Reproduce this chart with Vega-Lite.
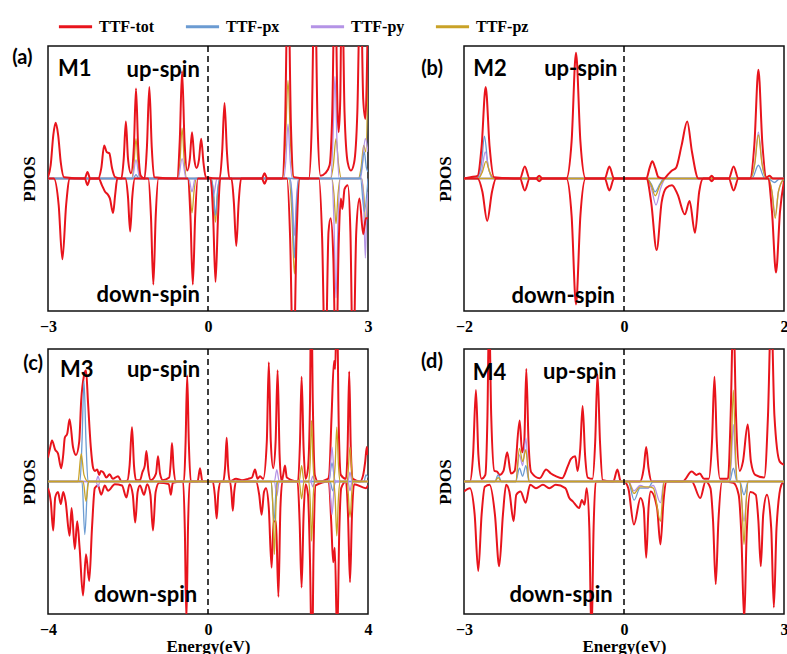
{
"$schema":"https://vega.github.io/schema/vega-lite/v6.json",
"padding":{"left":11,"top":8,"right":0,"bottom":0},
"bounds":"flush",
"columns":2,
"spacing":{"row":38,"column":96},
"resolve":{"scale":{"color":"shared"},"legend":{"color":"shared"}},
"config":{
 "view":{"stroke":"#111","strokeWidth":1.5},
 "font":"Liberation Serif",
 "axis":{"labelFont":"Liberation Serif","labelFontWeight":"bold","labelFontSize":16,"labelColor":"black","titleFont":"Liberation Serif","titleFontWeight":"bold","titleFontSize":17,"titleColor":"black","grid":false,"ticks":false,"domain":false,"format":"d"},
 "axisX":{"labelFlush":false,"labelPadding":7,"titlePadding":1},
 "axisY":{"labels":false,"titlePadding":10,"titleFontSize":17}
},
"datasets":{
"a":[
{"s":"tot","d":"u","x":-3.0,"y":0.01},{"s":"tot","d":"u","x":-2.95,"y":0.1},{"s":"tot","d":"u","x":-2.9,"y":0.33},{"s":"tot","d":"u","x":-2.856,"y":0.42},{"s":"tot","d":"u","x":-2.81,"y":0.33},{"s":"tot","d":"u","x":-2.76,"y":0.12},{"s":"tot","d":"u","x":-2.7,"y":0.01},{"s":"tot","d":"u","x":-2.31,"y":0},{"s":"tot","d":"u","x":-2.26,"y":0.05},{"s":"tot","d":"u","x":-2.21,"y":0},{"s":"tot","d":"u","x":-2.06,"y":0},{"s":"tot","d":"u","x":-2.0,"y":0.08},{"s":"tot","d":"u","x":-1.947,"y":0.25},{"s":"tot","d":"u","x":-1.9,"y":0.2},{"s":"tot","d":"u","x":-1.85,"y":0.19},{"s":"tot","d":"u","x":-1.8,"y":0.08},{"s":"tot","d":"u","x":-1.74,"y":0.01},{"s":"tot","d":"u","x":-1.625,"y":0},{"s":"tot","d":"u","x":-1.58,"y":0.15},{"s":"tot","d":"u","x":-1.54,"y":0.43},{"s":"tot","d":"u","x":-1.5,"y":0.15},{"s":"tot","d":"u","x":-1.445,"y":0.04},{"s":"tot","d":"u","x":-1.39,"y":0.24},{"s":"tot","d":"u","x":-1.35,"y":0.68},{"s":"tot","d":"u","x":-1.31,"y":0.24},{"s":"tot","d":"u","x":-1.26,"y":0.02},{"s":"tot","d":"u","x":-1.19,"y":0},{"s":"tot","d":"u","x":-1.145,"y":0.24},{"s":"tot","d":"u","x":-1.1,"y":0.69},{"s":"tot","d":"u","x":-1.055,"y":0.24},{"s":"tot","d":"u","x":-1.01,"y":0.01},{"s":"tot","d":"u","x":-0.58,"y":0},{"s":"tot","d":"u","x":-0.53,"y":0.28},{"s":"tot","d":"u","x":-0.486,"y":0.81},{"s":"tot","d":"u","x":-0.44,"y":0.28},{"s":"tot","d":"u","x":-0.39,"y":0.06},{"s":"tot","d":"u","x":-0.34,"y":0.15},{"s":"tot","d":"u","x":-0.3,"y":0.35},{"s":"tot","d":"u","x":-0.255,"y":0.14},{"s":"tot","d":"u","x":-0.215,"y":0.08},{"s":"tot","d":"u","x":-0.17,"y":0.14},{"s":"tot","d":"u","x":-0.128,"y":0.3},{"s":"tot","d":"u","x":-0.085,"y":0.12},{"s":"tot","d":"u","x":-0.04,"y":0.01},{"s":"tot","d":"u","x":0.22,"y":0},{"s":"tot","d":"u","x":0.265,"y":0.2},{"s":"tot","d":"u","x":0.31,"y":0.57},{"s":"tot","d":"u","x":0.355,"y":0.2},{"s":"tot","d":"u","x":0.4,"y":0},{"s":"tot","d":"u","x":1.01,"y":0},{"s":"tot","d":"u","x":1.06,"y":0.04},{"s":"tot","d":"u","x":1.11,"y":0},{"s":"tot","d":"u","x":1.39,"y":0},{"s":"tot","d":"u","x":1.445,"y":0.4},{"s":"tot","d":"u","x":1.5,"y":1.6},{"s":"tot","d":"u","x":1.555,"y":0.4},{"s":"tot","d":"u","x":1.61,"y":0.01},{"s":"tot","d":"u","x":1.89,"y":0},{"s":"tot","d":"u","x":1.945,"y":0.4},{"s":"tot","d":"u","x":2.0,"y":1.6},{"s":"tot","d":"u","x":2.055,"y":0.4},{"s":"tot","d":"u","x":2.11,"y":0.02},{"s":"tot","d":"u","x":2.2,"y":0.04},{"s":"tot","d":"u","x":2.28,"y":0.1},{"s":"tot","d":"u","x":2.33,"y":0.5},{"s":"tot","d":"u","x":2.38,"y":1.6},{"s":"tot","d":"u","x":2.43,"y":0.5},{"s":"tot","d":"u","x":2.45,"y":0.35},{"s":"tot","d":"u","x":2.48,"y":0.6},{"s":"tot","d":"u","x":2.51,"y":1.6},{"s":"tot","d":"u","x":2.56,"y":0.5},{"s":"tot","d":"u","x":2.62,"y":0.12},{"s":"tot","d":"u","x":2.68,"y":0.06},{"s":"tot","d":"u","x":2.74,"y":0.12},{"s":"tot","d":"u","x":2.8,"y":0.5},{"s":"tot","d":"u","x":2.86,"y":1.6},{"s":"tot","d":"u","x":2.91,"y":0.6},{"s":"tot","d":"u","x":2.95,"y":0.45},{"s":"tot","d":"u","x":3.0,"y":1.3},
{"s":"tot","d":"d","x":-3.0,"y":0},{"s":"tot","d":"d","x":-2.89,"y":0},{"s":"tot","d":"d","x":-2.8,"y":-0.2},{"s":"tot","d":"d","x":-2.73,"y":-0.61},{"s":"tot","d":"d","x":-2.66,"y":-0.2},{"s":"tot","d":"d","x":-2.59,"y":0},{"s":"tot","d":"d","x":-2.31,"y":0},{"s":"tot","d":"d","x":-2.26,"y":-0.05},{"s":"tot","d":"d","x":-2.21,"y":0},{"s":"tot","d":"d","x":-2.05,"y":0},{"s":"tot","d":"d","x":-1.99,"y":-0.05},{"s":"tot","d":"d","x":-1.93,"y":-0.1},{"s":"tot","d":"d","x":-1.88,"y":-0.12},{"s":"tot","d":"d","x":-1.84,"y":-0.15},{"s":"tot","d":"d","x":-1.78,"y":-0.26},{"s":"tot","d":"d","x":-1.74,"y":-0.12},{"s":"tot","d":"d","x":-1.7,"y":0},{"s":"tot","d":"d","x":-1.55,"y":0},{"s":"tot","d":"d","x":-1.5,"y":-0.14},{"s":"tot","d":"d","x":-1.46,"y":-0.4},{"s":"tot","d":"d","x":-1.42,"y":-0.14},{"s":"tot","d":"d","x":-1.37,"y":0},{"s":"tot","d":"d","x":-1.12,"y":0},{"s":"tot","d":"d","x":-1.07,"y":-0.28},{"s":"tot","d":"d","x":-1.025,"y":-0.8},{"s":"tot","d":"d","x":-0.98,"y":-0.28},{"s":"tot","d":"d","x":-0.93,"y":0},{"s":"tot","d":"d","x":-0.38,"y":0},{"s":"tot","d":"d","x":-0.33,"y":-0.28},{"s":"tot","d":"d","x":-0.285,"y":-0.8},{"s":"tot","d":"d","x":-0.24,"y":-0.28},{"s":"tot","d":"d","x":-0.19,"y":0},{"s":"tot","d":"d","x":0.05,"y":0},{"s":"tot","d":"d","x":0.095,"y":-0.27},{"s":"tot","d":"d","x":0.141,"y":-0.78},{"s":"tot","d":"d","x":0.19,"y":-0.27},{"s":"tot","d":"d","x":0.23,"y":0},{"s":"tot","d":"d","x":0.44,"y":0},{"s":"tot","d":"d","x":0.485,"y":-0.18},{"s":"tot","d":"d","x":0.53,"y":-0.51},{"s":"tot","d":"d","x":0.575,"y":-0.18},{"s":"tot","d":"d","x":0.62,"y":0},{"s":"tot","d":"d","x":1.01,"y":0},{"s":"tot","d":"d","x":1.06,"y":-0.04},{"s":"tot","d":"d","x":1.11,"y":0},{"s":"tot","d":"d","x":1.48,"y":0},{"s":"tot","d":"d","x":1.54,"y":-0.45},{"s":"tot","d":"d","x":1.6,"y":-1.5},{"s":"tot","d":"d","x":1.66,"y":-0.45},{"s":"tot","d":"d","x":1.72,"y":0},{"s":"tot","d":"d","x":2.08,"y":0},{"s":"tot","d":"d","x":2.14,"y":-0.45},{"s":"tot","d":"d","x":2.2,"y":-1.5},{"s":"tot","d":"d","x":2.26,"y":-0.4},{"s":"tot","d":"d","x":2.3,"y":-0.3},{"s":"tot","d":"d","x":2.35,"y":-0.6},{"s":"tot","d":"d","x":2.4,"y":-1.5},{"s":"tot","d":"d","x":2.45,"y":-0.5},{"s":"tot","d":"d","x":2.49,"y":-0.15},{"s":"tot","d":"d","x":2.52,"y":-0.23},{"s":"tot","d":"d","x":2.56,"y":-0.08},{"s":"tot","d":"d","x":2.62,"y":-0.05},{"s":"tot","d":"d","x":2.67,"y":-0.4},{"s":"tot","d":"d","x":2.72,"y":-1.5},{"s":"tot","d":"d","x":2.78,"y":-0.4},{"s":"tot","d":"d","x":2.84,"y":-0.15},{"s":"tot","d":"d","x":2.91,"y":-0.42},{"s":"tot","d":"d","x":2.96,"y":-0.3},{"s":"tot","d":"d","x":3.0,"y":-0.3},
{"s":"pz","d":"u","x":-3,"y":0},{"s":"pz","d":"u","x":-1.43,"y":0},{"s":"pz","d":"u","x":-1.39,"y":0.1},{"s":"pz","d":"u","x":-1.35,"y":0.3},{"s":"pz","d":"u","x":-1.31,"y":0.1},{"s":"pz","d":"u","x":-1.27,"y":0},{"s":"pz","d":"u","x":-0.57,"y":0},{"s":"pz","d":"u","x":-0.525,"y":0.13},{"s":"pz","d":"u","x":-0.486,"y":0.38},{"s":"pz","d":"u","x":-0.445,"y":0.13},{"s":"pz","d":"u","x":-0.4,"y":0},{"s":"pz","d":"u","x":1.4,"y":0},{"s":"pz","d":"u","x":1.45,"y":0.25},{"s":"pz","d":"u","x":1.5,"y":0.74},{"s":"pz","d":"u","x":1.55,"y":0.25},{"s":"pz","d":"u","x":1.6,"y":0},{"s":"pz","d":"u","x":2.3,"y":0},{"s":"pz","d":"u","x":2.35,"y":0.1},{"s":"pz","d":"u","x":2.4,"y":0.3},{"s":"pz","d":"u","x":2.45,"y":0.1},{"s":"pz","d":"u","x":2.5,"y":0},{"s":"pz","d":"u","x":2.82,"y":0},{"s":"pz","d":"u","x":2.87,"y":0.08},{"s":"pz","d":"u","x":2.92,"y":0.25},{"s":"pz","d":"u","x":2.96,"y":0.2},{"s":"pz","d":"u","x":3.0,"y":0.83},
{"s":"pz","d":"d","x":-3,"y":0},{"s":"pz","d":"d","x":-0.38,"y":0},{"s":"pz","d":"d","x":-0.34,"y":-0.09},{"s":"pz","d":"d","x":-0.3,"y":-0.26},{"s":"pz","d":"d","x":-0.26,"y":-0.09},{"s":"pz","d":"d","x":-0.22,"y":0},{"s":"pz","d":"d","x":0.06,"y":0},{"s":"pz","d":"d","x":0.1,"y":-0.11},{"s":"pz","d":"d","x":0.14,"y":-0.33},{"s":"pz","d":"d","x":0.18,"y":-0.11},{"s":"pz","d":"d","x":0.22,"y":0},{"s":"pz","d":"d","x":1.52,"y":0},{"s":"pz","d":"d","x":1.57,"y":-0.24},{"s":"pz","d":"d","x":1.62,"y":-0.72},{"s":"pz","d":"d","x":1.67,"y":-0.24},{"s":"pz","d":"d","x":1.72,"y":0},{"s":"pz","d":"d","x":2.32,"y":0},{"s":"pz","d":"d","x":2.36,"y":-0.11},{"s":"pz","d":"d","x":2.4,"y":-0.34},{"s":"pz","d":"d","x":2.44,"y":-0.11},{"s":"pz","d":"d","x":2.48,"y":0},{"s":"pz","d":"d","x":2.88,"y":0},{"s":"pz","d":"d","x":2.92,"y":-0.12},{"s":"pz","d":"d","x":2.96,"y":-0.35},{"s":"pz","d":"d","x":3.0,"y":-0.1},
{"s":"py","d":"u","x":-3,"y":0},{"s":"py","d":"u","x":-1.42,"y":0},{"s":"py","d":"u","x":-1.35,"y":0.14},{"s":"py","d":"u","x":-1.28,"y":0},{"s":"py","d":"u","x":-0.56,"y":0},{"s":"py","d":"u","x":-0.486,"y":0.15},{"s":"py","d":"u","x":-0.41,"y":0},{"s":"py","d":"u","x":1.42,"y":0},{"s":"py","d":"u","x":1.46,"y":0.14},{"s":"py","d":"u","x":1.5,"y":0.41},{"s":"py","d":"u","x":1.54,"y":0.14},{"s":"py","d":"u","x":1.58,"y":0},{"s":"py","d":"u","x":2.3,"y":0},{"s":"py","d":"u","x":2.34,"y":0.26},{"s":"py","d":"u","x":2.38,"y":0.77},{"s":"py","d":"u","x":2.42,"y":0.26},{"s":"py","d":"u","x":2.46,"y":0},{"s":"py","d":"u","x":2.86,"y":0},{"s":"py","d":"u","x":2.95,"y":0.3},{"s":"py","d":"u","x":3.0,"y":0.2},
{"s":"py","d":"d","x":-3,"y":0},{"s":"py","d":"d","x":-0.36,"y":0},{"s":"py","d":"d","x":-0.3,"y":-0.1},{"s":"py","d":"d","x":-0.24,"y":0},{"s":"py","d":"d","x":0.03,"y":0},{"s":"py","d":"d","x":0.1,"y":-0.13},{"s":"py","d":"d","x":0.17,"y":0},{"s":"py","d":"d","x":1.54,"y":0},{"s":"py","d":"d","x":1.58,"y":-0.14},{"s":"py","d":"d","x":1.62,"y":-0.43},{"s":"py","d":"d","x":1.66,"y":-0.14},{"s":"py","d":"d","x":1.7,"y":0},{"s":"py","d":"d","x":2.32,"y":0},{"s":"py","d":"d","x":2.36,"y":-0.3},{"s":"py","d":"d","x":2.4,"y":-0.9},{"s":"py","d":"d","x":2.44,"y":-0.3},{"s":"py","d":"d","x":2.48,"y":0},{"s":"py","d":"d","x":2.88,"y":0},{"s":"py","d":"d","x":2.92,"y":-0.2},{"s":"py","d":"d","x":2.95,"y":-0.6},{"s":"py","d":"d","x":2.98,"y":-0.2},{"s":"py","d":"d","x":3.0,"y":-0.1},
{"s":"px","d":"u","x":-3,"y":0},{"s":"px","d":"u","x":-1.4,"y":0},{"s":"px","d":"u","x":-1.35,"y":0.03},{"s":"px","d":"u","x":-1.3,"y":0},{"s":"px","d":"u","x":2.84,"y":0},{"s":"px","d":"u","x":2.88,"y":0.07},{"s":"px","d":"u","x":2.93,"y":0.2},{"s":"px","d":"u","x":2.97,"y":0.08},{"s":"px","d":"u","x":3.0,"y":0.05},
{"s":"px","d":"d","x":-3,"y":0},{"s":"px","d":"d","x":0.06,"y":0},{"s":"px","d":"d","x":0.1,"y":-0.09},{"s":"px","d":"d","x":0.14,"y":-0.28},{"s":"px","d":"d","x":0.18,"y":-0.09},{"s":"px","d":"d","x":0.22,"y":0},{"s":"px","d":"d","x":1.54,"y":0},{"s":"px","d":"d","x":1.58,"y":-0.2},{"s":"px","d":"d","x":1.62,"y":-0.6},{"s":"px","d":"d","x":1.66,"y":-0.2},{"s":"px","d":"d","x":1.7,"y":0},{"s":"px","d":"d","x":2.86,"y":0},{"s":"px","d":"d","x":2.93,"y":-0.25},{"s":"px","d":"d","x":3.0,"y":0}
],
"b":[
{"s":"tot","d":"u","x":-2,"y":0},{"s":"tot","d":"u","x":-1.92,"y":0.01},{"s":"tot","d":"u","x":-1.83,"y":0.02},{"s":"tot","d":"u","x":-1.78,"y":0.24},{"s":"tot","d":"u","x":-1.729,"y":0.69},{"s":"tot","d":"u","x":-1.68,"y":0.24},{"s":"tot","d":"u","x":-1.625,"y":0.01},{"s":"tot","d":"u","x":-1.3,"y":0},{"s":"tot","d":"u","x":-1.24,"y":0.09},{"s":"tot","d":"u","x":-1.18,"y":0},{"s":"tot","d":"u","x":-1.1,"y":0},{"s":"tot","d":"u","x":-1.06,"y":0.02},{"s":"tot","d":"u","x":-1.02,"y":0},{"s":"tot","d":"u","x":-0.72,"y":0},{"s":"tot","d":"u","x":-0.655,"y":0.28},{"s":"tot","d":"u","x":-0.6,"y":0.95},{"s":"tot","d":"u","x":-0.545,"y":0.28},{"s":"tot","d":"u","x":-0.48,"y":0},{"s":"tot","d":"u","x":-0.24,"y":0},{"s":"tot","d":"u","x":-0.183,"y":0.09},{"s":"tot","d":"u","x":-0.125,"y":0},{"s":"tot","d":"u","x":0.28,"y":0},{"s":"tot","d":"u","x":0.32,"y":0.08},{"s":"tot","d":"u","x":0.354,"y":0.13},{"s":"tot","d":"u","x":0.39,"y":0.08},{"s":"tot","d":"u","x":0.43,"y":0.01},{"s":"tot","d":"u","x":0.5,"y":0},{"s":"tot","d":"u","x":0.55,"y":0.03},{"s":"tot","d":"u","x":0.6,"y":0.06},{"s":"tot","d":"u","x":0.65,"y":0.08},{"s":"tot","d":"u","x":0.72,"y":0.25},{"s":"tot","d":"u","x":0.79,"y":0.43},{"s":"tot","d":"u","x":0.85,"y":0.2},{"s":"tot","d":"u","x":0.93,"y":0},{"s":"tot","d":"u","x":1.06,"y":0},{"s":"tot","d":"u","x":1.096,"y":0.02},{"s":"tot","d":"u","x":1.13,"y":0},{"s":"tot","d":"u","x":1.31,"y":0},{"s":"tot","d":"u","x":1.37,"y":0.09},{"s":"tot","d":"u","x":1.43,"y":0},{"s":"tot","d":"u","x":1.575,"y":0},{"s":"tot","d":"u","x":1.63,"y":0.26},{"s":"tot","d":"u","x":1.68,"y":0.82},{"s":"tot","d":"u","x":1.73,"y":0.26},{"s":"tot","d":"u","x":1.78,"y":0.01},{"s":"tot","d":"u","x":1.82,"y":0.02},{"s":"tot","d":"u","x":1.86,"y":0},{"s":"tot","d":"u","x":2,"y":0},
{"s":"tot","d":"d","x":-2,"y":0},{"s":"tot","d":"d","x":-1.83,"y":0},{"s":"tot","d":"d","x":-1.77,"y":-0.1},{"s":"tot","d":"d","x":-1.71,"y":-0.32},{"s":"tot","d":"d","x":-1.65,"y":-0.1},{"s":"tot","d":"d","x":-1.6,"y":0},{"s":"tot","d":"d","x":-1.3,"y":0},{"s":"tot","d":"d","x":-1.24,"y":-0.09},{"s":"tot","d":"d","x":-1.18,"y":0},{"s":"tot","d":"d","x":-1.1,"y":0},{"s":"tot","d":"d","x":-1.06,"y":-0.02},{"s":"tot","d":"d","x":-1.02,"y":0},{"s":"tot","d":"d","x":-0.72,"y":0},{"s":"tot","d":"d","x":-0.655,"y":-0.28},{"s":"tot","d":"d","x":-0.6,"y":-0.95},{"s":"tot","d":"d","x":-0.545,"y":-0.28},{"s":"tot","d":"d","x":-0.48,"y":0},{"s":"tot","d":"d","x":-0.24,"y":0},{"s":"tot","d":"d","x":-0.183,"y":-0.09},{"s":"tot","d":"d","x":-0.125,"y":0},{"s":"tot","d":"d","x":0.28,"y":0},{"s":"tot","d":"d","x":0.34,"y":-0.18},{"s":"tot","d":"d","x":0.408,"y":-0.54},{"s":"tot","d":"d","x":0.47,"y":-0.18},{"s":"tot","d":"d","x":0.53,"y":-0.07},{"s":"tot","d":"d","x":0.6,"y":-0.05},{"s":"tot","d":"d","x":0.67,"y":-0.12},{"s":"tot","d":"d","x":0.76,"y":-0.27},{"s":"tot","d":"d","x":0.82,"y":-0.17},{"s":"tot","d":"d","x":0.887,"y":-0.41},{"s":"tot","d":"d","x":0.94,"y":-0.1},{"s":"tot","d":"d","x":0.99,"y":0},{"s":"tot","d":"d","x":1.06,"y":0},{"s":"tot","d":"d","x":1.096,"y":-0.02},{"s":"tot","d":"d","x":1.13,"y":0},{"s":"tot","d":"d","x":1.31,"y":0},{"s":"tot","d":"d","x":1.37,"y":-0.09},{"s":"tot","d":"d","x":1.43,"y":0},{"s":"tot","d":"d","x":1.8,"y":0},{"s":"tot","d":"d","x":1.85,"y":-0.25},{"s":"tot","d":"d","x":1.9,"y":-0.71},{"s":"tot","d":"d","x":1.95,"y":-0.25},{"s":"tot","d":"d","x":2.0,"y":-0.02},
{"s":"px","d":"u","x":-2,"y":0},{"s":"px","d":"u","x":-1.84,"y":0},{"s":"px","d":"u","x":-1.78,"y":0.12},{"s":"px","d":"u","x":-1.745,"y":0.32},{"s":"px","d":"u","x":-1.7,"y":0.1},{"s":"px","d":"u","x":-1.64,"y":0},{"s":"px","d":"u","x":1.6,"y":0},{"s":"px","d":"u","x":1.68,"y":0.1},{"s":"px","d":"u","x":1.76,"y":0},{"s":"px","d":"u","x":2,"y":0},
{"s":"py","d":"u","x":-2,"y":0},{"s":"py","d":"u","x":-1.83,"y":0},{"s":"py","d":"u","x":-1.775,"y":0.07},{"s":"py","d":"u","x":-1.735,"y":0.2},{"s":"py","d":"u","x":-1.69,"y":0.07},{"s":"py","d":"u","x":-1.63,"y":0},{"s":"py","d":"u","x":1.58,"y":0},{"s":"py","d":"u","x":1.635,"y":0.12},{"s":"py","d":"u","x":1.68,"y":0.35},{"s":"py","d":"u","x":1.725,"y":0.12},{"s":"py","d":"u","x":1.78,"y":0},{"s":"py","d":"u","x":2,"y":0},
{"s":"pz","d":"u","x":-2,"y":0},{"s":"pz","d":"u","x":-1.82,"y":0},{"s":"pz","d":"u","x":-1.77,"y":0.05},{"s":"pz","d":"u","x":-1.725,"y":0.13},{"s":"pz","d":"u","x":-1.68,"y":0.05},{"s":"pz","d":"u","x":-1.62,"y":0},{"s":"pz","d":"u","x":1.58,"y":0},{"s":"pz","d":"u","x":1.635,"y":0.11},{"s":"pz","d":"u","x":1.68,"y":0.33},{"s":"pz","d":"u","x":1.725,"y":0.11},{"s":"pz","d":"u","x":1.78,"y":0},{"s":"pz","d":"u","x":2,"y":0},
{"s":"px","d":"d","x":-2,"y":0},{"s":"px","d":"d","x":0.28,"y":0},{"s":"px","d":"d","x":0.34,"y":-0.04},{"s":"px","d":"d","x":0.39,"y":-0.1},{"s":"px","d":"d","x":0.45,"y":-0.04},{"s":"px","d":"d","x":0.5,"y":0},{"s":"px","d":"d","x":1.8,"y":0},{"s":"px","d":"d","x":1.88,"y":-0.03},{"s":"px","d":"d","x":1.95,"y":0},{"s":"px","d":"d","x":2,"y":0},
{"s":"py","d":"d","x":-2,"y":0},{"s":"py","d":"d","x":0.28,"y":0},{"s":"py","d":"d","x":0.34,"y":-0.07},{"s":"py","d":"d","x":0.4,"y":-0.2},{"s":"py","d":"d","x":0.46,"y":-0.07},{"s":"py","d":"d","x":0.52,"y":0},{"s":"py","d":"d","x":1.8,"y":0},{"s":"py","d":"d","x":1.85,"y":-0.1},{"s":"py","d":"d","x":1.89,"y":-0.28},{"s":"py","d":"d","x":1.93,"y":-0.1},{"s":"py","d":"d","x":2,"y":0},
{"s":"pz","d":"d","x":-2,"y":0},{"s":"pz","d":"d","x":0.28,"y":0},{"s":"pz","d":"d","x":0.34,"y":-0.05},{"s":"pz","d":"d","x":0.39,"y":-0.13},{"s":"pz","d":"d","x":0.45,"y":-0.05},{"s":"pz","d":"d","x":0.52,"y":0},{"s":"pz","d":"d","x":1.8,"y":0},{"s":"pz","d":"d","x":1.85,"y":-0.1},{"s":"pz","d":"d","x":1.89,"y":-0.3},{"s":"pz","d":"d","x":1.93,"y":-0.1},{"s":"pz","d":"d","x":2,"y":0}
],
"c":[
{"s":"tot","d":"u","x":-4.0,"y":0.18},{"s":"tot","d":"u","x":-3.95,"y":0.25},{"s":"tot","d":"u","x":-3.9,"y":0.31},{"s":"tot","d":"u","x":-3.82,"y":0.24},{"s":"tot","d":"u","x":-3.75,"y":0.21},{"s":"tot","d":"u","x":-3.67,"y":0.1},{"s":"tot","d":"u","x":-3.62,"y":0.2},{"s":"tot","d":"u","x":-3.58,"y":0.33},{"s":"tot","d":"u","x":-3.52,"y":0.36},{"s":"tot","d":"u","x":-3.46,"y":0.47},{"s":"tot","d":"u","x":-3.375,"y":0.26},{"s":"tot","d":"u","x":-3.3,"y":0.2},{"s":"tot","d":"u","x":-3.22,"y":0.3},{"s":"tot","d":"u","x":-3.17,"y":0.61},{"s":"tot","d":"u","x":-3.1,"y":0.8},{"s":"tot","d":"u","x":-3.05,"y":0.84},{"s":"tot","d":"u","x":-3.0,"y":0.6},{"s":"tot","d":"u","x":-2.93,"y":0.26},{"s":"tot","d":"u","x":-2.87,"y":0.1},{"s":"tot","d":"u","x":-2.83,"y":0.08},{"s":"tot","d":"u","x":-2.77,"y":0.09},{"s":"tot","d":"u","x":-2.72,"y":0.05},{"s":"tot","d":"u","x":-2.68,"y":0.08},{"s":"tot","d":"u","x":-2.62,"y":0.07},{"s":"tot","d":"u","x":-2.54,"y":0.03},{"s":"tot","d":"u","x":-2.46,"y":0.055},{"s":"tot","d":"u","x":-2.38,"y":0.02},{"s":"tot","d":"u","x":-2.25,"y":0.04},{"s":"tot","d":"u","x":-2.16,"y":0},{"s":"tot","d":"u","x":-2.02,"y":0.005},{"s":"tot","d":"u","x":-1.96,"y":0.12},{"s":"tot","d":"u","x":-1.9,"y":0.41},{"s":"tot","d":"u","x":-1.85,"y":0.12},{"s":"tot","d":"u","x":-1.8,"y":0.01},{"s":"tot","d":"u","x":-1.7,"y":0.01},{"s":"tot","d":"u","x":-1.64,"y":0.07},{"s":"tot","d":"u","x":-1.58,"y":0.12},{"s":"tot","d":"u","x":-1.54,"y":0.23},{"s":"tot","d":"u","x":-1.49,"y":0.08},{"s":"tot","d":"u","x":-1.43,"y":0.01},{"s":"tot","d":"u","x":-1.3,"y":0.06},{"s":"tot","d":"u","x":-1.25,"y":0.19},{"s":"tot","d":"u","x":-1.2,"y":0.06},{"s":"tot","d":"u","x":-1.13,"y":0.01},{"s":"tot","d":"u","x":-0.97,"y":0.03},{"s":"tot","d":"u","x":-0.93,"y":0.15},{"s":"tot","d":"u","x":-0.9,"y":0.29},{"s":"tot","d":"u","x":-0.86,"y":0.1},{"s":"tot","d":"u","x":-0.8,"y":0},{"s":"tot","d":"u","x":-0.6,"y":0},{"s":"tot","d":"u","x":-0.56,"y":0.3},{"s":"tot","d":"u","x":-0.52,"y":0.8},{"s":"tot","d":"u","x":-0.48,"y":0.3},{"s":"tot","d":"u","x":-0.43,"y":0},{"s":"tot","d":"u","x":-0.26,"y":0},{"s":"tot","d":"u","x":-0.2,"y":0.1},{"s":"tot","d":"u","x":-0.14,"y":0},{"s":"tot","d":"u","x":0.38,"y":0},{"s":"tot","d":"u","x":0.43,"y":0.12},{"s":"tot","d":"u","x":0.467,"y":0.33},{"s":"tot","d":"u","x":0.5,"y":0.12},{"s":"tot","d":"u","x":0.55,"y":0},{"s":"tot","d":"u","x":0.7,"y":0.02},{"s":"tot","d":"u","x":0.85,"y":0.01},{"s":"tot","d":"u","x":1.0,"y":0.02},{"s":"tot","d":"u","x":1.1,"y":0.03},{"s":"tot","d":"u","x":1.175,"y":0.09},{"s":"tot","d":"u","x":1.24,"y":0.02},{"s":"tot","d":"u","x":1.3,"y":0.04},{"s":"tot","d":"u","x":1.38,"y":0.02},{"s":"tot","d":"u","x":1.47,"y":0.3},{"s":"tot","d":"u","x":1.52,"y":0.9},{"s":"tot","d":"u","x":1.57,"y":0.3},{"s":"tot","d":"u","x":1.63,"y":0.1},{"s":"tot","d":"u","x":1.69,"y":0.3},{"s":"tot","d":"u","x":1.74,"y":0.84},{"s":"tot","d":"u","x":1.79,"y":0.2},{"s":"tot","d":"u","x":1.84,"y":0},{"s":"tot","d":"u","x":1.88,"y":0.05},{"s":"tot","d":"u","x":1.925,"y":0.12},{"s":"tot","d":"u","x":1.97,"y":0.03},{"s":"tot","d":"u","x":2.25,"y":0},{"s":"tot","d":"u","x":2.3,"y":0.3},{"s":"tot","d":"u","x":2.34,"y":0.79},{"s":"tot","d":"u","x":2.39,"y":0.25},{"s":"tot","d":"u","x":2.44,"y":0.02},{"s":"tot","d":"u","x":2.5,"y":0.1},{"s":"tot","d":"u","x":2.55,"y":0.6},{"s":"tot","d":"u","x":2.58,"y":1.5},{"s":"tot","d":"u","x":2.62,"y":0.6},{"s":"tot","d":"u","x":2.67,"y":0.05},{"s":"tot","d":"u","x":2.75,"y":0},{"s":"tot","d":"u","x":3.0,"y":0.02},{"s":"tot","d":"u","x":3.03,"y":0.05},{"s":"tot","d":"u","x":3.09,"y":0.5},{"s":"tot","d":"u","x":3.15,"y":0.91},{"s":"tot","d":"u","x":3.18,"y":0.85},{"s":"tot","d":"u","x":3.22,"y":1.4},{"s":"tot","d":"u","x":3.27,"y":0.4},{"s":"tot","d":"u","x":3.32,"y":0.05},{"s":"tot","d":"u","x":3.45,"y":0.02},{"s":"tot","d":"u","x":3.49,"y":0.25},{"s":"tot","d":"u","x":3.53,"y":0.83},{"s":"tot","d":"u","x":3.57,"y":0.25},{"s":"tot","d":"u","x":3.62,"y":0.02},{"s":"tot","d":"u","x":3.8,"y":0},{"s":"tot","d":"u","x":3.88,"y":0.05},{"s":"tot","d":"u","x":3.93,"y":0.15},{"s":"tot","d":"u","x":3.97,"y":0.26},{"s":"tot","d":"u","x":4.0,"y":0.2},
{"s":"tot","d":"d","x":-4.0,"y":-0.05},{"s":"tot","d":"d","x":-3.93,"y":-0.15},{"s":"tot","d":"d","x":-3.87,"y":-0.37},{"s":"tot","d":"d","x":-3.82,"y":-0.12},{"s":"tot","d":"d","x":-3.75,"y":-0.08},{"s":"tot","d":"d","x":-3.68,"y":-0.17},{"s":"tot","d":"d","x":-3.62,"y":-0.08},{"s":"tot","d":"d","x":-3.56,"y":-0.15},{"s":"tot","d":"d","x":-3.46,"y":-0.41},{"s":"tot","d":"d","x":-3.41,"y":-0.2},{"s":"tot","d":"d","x":-3.33,"y":-0.51},{"s":"tot","d":"d","x":-3.27,"y":-0.3},{"s":"tot","d":"d","x":-3.21,"y":-0.5},{"s":"tot","d":"d","x":-3.125,"y":-0.86},{"s":"tot","d":"d","x":-3.05,"y":-0.55},{"s":"tot","d":"d","x":-2.97,"y":-0.75},{"s":"tot","d":"d","x":-2.9,"y":-0.35},{"s":"tot","d":"d","x":-2.83,"y":-0.05},{"s":"tot","d":"d","x":-2.75,"y":-0.03},{"s":"tot","d":"d","x":-2.67,"y":-0.1},{"s":"tot","d":"d","x":-2.58,"y":-0.03},{"s":"tot","d":"d","x":-2.5,"y":-0.07},{"s":"tot","d":"d","x":-2.33,"y":-0.02},{"s":"tot","d":"d","x":-2.15,"y":-0.03},{"s":"tot","d":"d","x":-2.04,"y":-0.12},{"s":"tot","d":"d","x":-1.96,"y":-0.02},{"s":"tot","d":"d","x":-1.88,"y":-0.1},{"s":"tot","d":"d","x":-1.82,"y":-0.31},{"s":"tot","d":"d","x":-1.76,"y":-0.08},{"s":"tot","d":"d","x":-1.7,"y":-0.03},{"s":"tot","d":"d","x":-1.6,"y":-0.1},{"s":"tot","d":"d","x":-1.52,"y":-0.02},{"s":"tot","d":"d","x":-1.44,"y":-0.1},{"s":"tot","d":"d","x":-1.375,"y":-0.37},{"s":"tot","d":"d","x":-1.31,"y":-0.08},{"s":"tot","d":"d","x":-1.22,"y":-0.01},{"s":"tot","d":"d","x":-0.98,"y":-0.02},{"s":"tot","d":"d","x":-0.93,"y":-0.1},{"s":"tot","d":"d","x":-0.88,"y":-0.01},{"s":"tot","d":"d","x":-0.62,"y":0},{"s":"tot","d":"d","x":-0.58,"y":-0.35},{"s":"tot","d":"d","x":-0.54,"y":-1.05},{"s":"tot","d":"d","x":-0.5,"y":-0.35},{"s":"tot","d":"d","x":-0.46,"y":0},{"s":"tot","d":"d","x":0.12,"y":0},{"s":"tot","d":"d","x":0.17,"y":-0.1},{"s":"tot","d":"d","x":0.217,"y":-0.28},{"s":"tot","d":"d","x":0.26,"y":-0.08},{"s":"tot","d":"d","x":0.32,"y":0},{"s":"tot","d":"d","x":0.55,"y":0},{"s":"tot","d":"d","x":0.585,"y":-0.08},{"s":"tot","d":"d","x":0.62,"y":-0.22},{"s":"tot","d":"d","x":0.655,"y":-0.08},{"s":"tot","d":"d","x":0.7,"y":0},{"s":"tot","d":"d","x":1.2,"y":0},{"s":"tot","d":"d","x":1.28,"y":-0.1},{"s":"tot","d":"d","x":1.34,"y":-0.25},{"s":"tot","d":"d","x":1.4,"y":-0.08},{"s":"tot","d":"d","x":1.45,"y":-0.05},{"s":"tot","d":"d","x":1.52,"y":-0.2},{"s":"tot","d":"d","x":1.59,"y":-0.65},{"s":"tot","d":"d","x":1.64,"y":-0.3},{"s":"tot","d":"d","x":1.7,"y":-0.3},{"s":"tot","d":"d","x":1.76,"y":-0.87},{"s":"tot","d":"d","x":1.81,"y":-0.2},{"s":"tot","d":"d","x":1.86,"y":0},{"s":"tot","d":"d","x":2.24,"y":0},{"s":"tot","d":"d","x":2.29,"y":-0.3},{"s":"tot","d":"d","x":2.34,"y":-0.8},{"s":"tot","d":"d","x":2.39,"y":-0.25},{"s":"tot","d":"d","x":2.44,"y":-0.02},{"s":"tot","d":"d","x":2.5,"y":-0.1},{"s":"tot","d":"d","x":2.55,"y":-0.6},{"s":"tot","d":"d","x":2.6,"y":-1.4},{"s":"tot","d":"d","x":2.64,"y":-0.5},{"s":"tot","d":"d","x":2.69,"y":-0.03},{"s":"tot","d":"d","x":3.02,"y":0},{"s":"tot","d":"d","x":3.08,"y":-0.3},{"s":"tot","d":"d","x":3.13,"y":-0.61},{"s":"tot","d":"d","x":3.17,"y":-0.5},{"s":"tot","d":"d","x":3.23,"y":-1.2},{"s":"tot","d":"d","x":3.28,"y":-0.4},{"s":"tot","d":"d","x":3.33,"y":-0.05},{"s":"tot","d":"d","x":3.45,"y":0},{"s":"tot","d":"d","x":3.5,"y":-0.25},{"s":"tot","d":"d","x":3.55,"y":-0.76},{"s":"tot","d":"d","x":3.6,"y":-0.25},{"s":"tot","d":"d","x":3.65,"y":-0.02},{"s":"tot","d":"d","x":3.95,"y":-0.05},{"s":"tot","d":"d","x":4.0,"y":-0.03},
{"s":"px","d":"u","x":-4,"y":0},{"s":"px","d":"u","x":-3.2,"y":0},{"s":"px","d":"u","x":-3.15,"y":0.3},{"s":"px","d":"u","x":-3.1,"y":0.76},{"s":"px","d":"u","x":-3.05,"y":0.3},{"s":"px","d":"u","x":-3.0,"y":0},{"s":"px","d":"u","x":3.02,"y":0},{"s":"px","d":"u","x":3.1,"y":0.14},{"s":"px","d":"u","x":3.18,"y":0},{"s":"px","d":"u","x":3.9,"y":0},{"s":"px","d":"u","x":3.95,"y":0.05},{"s":"px","d":"u","x":4,"y":0.03},
{"s":"py","d":"u","x":-4,"y":0},{"s":"py","d":"u","x":-2.8,"y":0},{"s":"py","d":"u","x":-2.75,"y":0.04},{"s":"py","d":"u","x":-2.7,"y":0},{"s":"py","d":"u","x":1.66,"y":0},{"s":"py","d":"u","x":1.72,"y":0.09},{"s":"py","d":"u","x":1.78,"y":0},{"s":"py","d":"u","x":2.57,"y":0},{"s":"py","d":"u","x":2.62,"y":0.04},{"s":"py","d":"u","x":2.67,"y":0},{"s":"py","d":"u","x":3.03,"y":0},{"s":"py","d":"u","x":3.1,"y":0.26},{"s":"py","d":"u","x":3.17,"y":0},{"s":"py","d":"u","x":3.5,"y":0},{"s":"py","d":"u","x":3.55,"y":0.07},{"s":"py","d":"u","x":3.6,"y":0},{"s":"py","d":"u","x":4,"y":0},
{"s":"pz","d":"u","x":-4,"y":0},{"s":"pz","d":"u","x":-3.25,"y":0},{"s":"pz","d":"u","x":-3.17,"y":0.21},{"s":"pz","d":"u","x":-3.1,"y":0.05},{"s":"pz","d":"u","x":-3.0,"y":0},{"s":"pz","d":"u","x":2.28,"y":0},{"s":"pz","d":"u","x":2.34,"y":0.12},{"s":"pz","d":"u","x":2.4,"y":0},{"s":"pz","d":"u","x":2.52,"y":0},{"s":"pz","d":"u","x":2.555,"y":0.15},{"s":"pz","d":"u","x":2.59,"y":0.46},{"s":"pz","d":"u","x":2.625,"y":0.15},{"s":"pz","d":"u","x":2.66,"y":0},{"s":"pz","d":"u","x":3.14,"y":0},{"s":"pz","d":"u","x":3.18,"y":0.13},{"s":"pz","d":"u","x":3.22,"y":0.41},{"s":"pz","d":"u","x":3.26,"y":0.13},{"s":"pz","d":"u","x":3.3,"y":0},{"s":"pz","d":"u","x":3.48,"y":0},{"s":"pz","d":"u","x":3.55,"y":0.26},{"s":"pz","d":"u","x":3.62,"y":0},{"s":"pz","d":"u","x":4,"y":0},
{"s":"px","d":"d","x":-4,"y":0},{"s":"px","d":"d","x":-3.15,"y":0},{"s":"px","d":"d","x":-3.08,"y":-0.4},{"s":"px","d":"d","x":-3.0,"y":0},{"s":"px","d":"d","x":1.58,"y":0},{"s":"px","d":"d","x":1.65,"y":-0.3},{"s":"px","d":"d","x":1.72,"y":0},{"s":"px","d":"d","x":3.05,"y":0},{"s":"px","d":"d","x":3.12,"y":-0.07},{"s":"px","d":"d","x":3.19,"y":0},{"s":"px","d":"d","x":4,"y":0},
{"s":"py","d":"d","x":-4,"y":0},{"s":"py","d":"d","x":-2.8,"y":0},{"s":"py","d":"d","x":-2.75,"y":-0.04},{"s":"py","d":"d","x":-2.7,"y":0},{"s":"py","d":"d","x":1.66,"y":0},{"s":"py","d":"d","x":1.72,"y":-0.11},{"s":"py","d":"d","x":1.78,"y":0},{"s":"py","d":"d","x":2.57,"y":0},{"s":"py","d":"d","x":2.62,"y":-0.04},{"s":"py","d":"d","x":2.67,"y":0},{"s":"py","d":"d","x":3.03,"y":0},{"s":"py","d":"d","x":3.1,"y":-0.25},{"s":"py","d":"d","x":3.17,"y":0},{"s":"py","d":"d","x":3.5,"y":0},{"s":"py","d":"d","x":3.55,"y":-0.07},{"s":"py","d":"d","x":3.6,"y":0},{"s":"py","d":"d","x":4,"y":0},
{"s":"pz","d":"d","x":-4,"y":0},{"s":"pz","d":"d","x":-3.12,"y":0},{"s":"pz","d":"d","x":-3.05,"y":-0.15},{"s":"pz","d":"d","x":-2.98,"y":0},{"s":"pz","d":"d","x":1.58,"y":0},{"s":"pz","d":"d","x":1.62,"y":-0.18},{"s":"pz","d":"d","x":1.66,"y":-0.55},{"s":"pz","d":"d","x":1.7,"y":-0.18},{"s":"pz","d":"d","x":1.74,"y":0},{"s":"pz","d":"d","x":2.28,"y":0},{"s":"pz","d":"d","x":2.34,"y":-0.13},{"s":"pz","d":"d","x":2.4,"y":0},{"s":"pz","d":"d","x":2.52,"y":0},{"s":"pz","d":"d","x":2.555,"y":-0.15},{"s":"pz","d":"d","x":2.59,"y":-0.45},{"s":"pz","d":"d","x":2.625,"y":-0.15},{"s":"pz","d":"d","x":2.66,"y":0},{"s":"pz","d":"d","x":3.14,"y":0},{"s":"pz","d":"d","x":3.18,"y":-0.13},{"s":"pz","d":"d","x":3.22,"y":-0.41},{"s":"pz","d":"d","x":3.26,"y":-0.13},{"s":"pz","d":"d","x":3.3,"y":0},{"s":"pz","d":"d","x":3.48,"y":0},{"s":"pz","d":"d","x":3.55,"y":-0.27},{"s":"pz","d":"d","x":3.62,"y":0},{"s":"pz","d":"d","x":4,"y":0}
],
"d":[
{"s":"tot","d":"u","x":-3.0,"y":0},{"s":"tot","d":"u","x":-2.89,"y":0},{"s":"tot","d":"u","x":-2.83,"y":0.2},{"s":"tot","d":"u","x":-2.776,"y":0.69},{"s":"tot","d":"u","x":-2.73,"y":0.2},{"s":"tot","d":"u","x":-2.67,"y":0.02},{"s":"tot","d":"u","x":-2.6,"y":0.05},{"s":"tot","d":"u","x":-2.56,"y":0.5},{"s":"tot","d":"u","x":-2.53,"y":1.3},{"s":"tot","d":"u","x":-2.49,"y":0.5},{"s":"tot","d":"u","x":-2.43,"y":0.08},{"s":"tot","d":"u","x":-2.38,"y":0.075},{"s":"tot","d":"u","x":-2.33,"y":0.05},{"s":"tot","d":"u","x":-2.26,"y":0.08},{"s":"tot","d":"u","x":-2.19,"y":0.22},{"s":"tot","d":"u","x":-2.12,"y":0.06},{"s":"tot","d":"u","x":-2.05,"y":0.08},{"s":"tot","d":"u","x":-1.957,"y":0.46},{"s":"tot","d":"u","x":-1.91,"y":0.22},{"s":"tot","d":"u","x":-1.87,"y":0.3},{"s":"tot","d":"u","x":-1.832,"y":0.85},{"s":"tot","d":"u","x":-1.79,"y":0.3},{"s":"tot","d":"u","x":-1.74,"y":0.07},{"s":"tot","d":"u","x":-1.58,"y":0.025},{"s":"tot","d":"u","x":-1.46,"y":0.09},{"s":"tot","d":"u","x":-1.37,"y":0.06},{"s":"tot","d":"u","x":-1.28,"y":0.04},{"s":"tot","d":"u","x":-1.16,"y":0.025},{"s":"tot","d":"u","x":-1.05,"y":0.12},{"s":"tot","d":"u","x":-0.994,"y":0.17},{"s":"tot","d":"u","x":-0.915,"y":0.19},{"s":"tot","d":"u","x":-0.87,"y":0.08},{"s":"tot","d":"u","x":-0.82,"y":0.25},{"s":"tot","d":"u","x":-0.776,"y":0.57},{"s":"tot","d":"u","x":-0.73,"y":0.2},{"s":"tot","d":"u","x":-0.68,"y":0.03},{"s":"tot","d":"u","x":-0.59,"y":0.02},{"s":"tot","d":"u","x":-0.54,"y":0.3},{"s":"tot","d":"u","x":-0.497,"y":0.81},{"s":"tot","d":"u","x":-0.45,"y":0.3},{"s":"tot","d":"u","x":-0.4,"y":0.01},{"s":"tot","d":"u","x":-0.2,"y":0},{"s":"tot","d":"u","x":-0.124,"y":0.09},{"s":"tot","d":"u","x":-0.06,"y":0},{"s":"tot","d":"u","x":0.3,"y":0},{"s":"tot","d":"u","x":0.37,"y":0.1},{"s":"tot","d":"u","x":0.416,"y":0.26},{"s":"tot","d":"u","x":0.46,"y":0.1},{"s":"tot","d":"u","x":0.52,"y":0},{"s":"tot","d":"u","x":1.1,"y":0},{"s":"tot","d":"u","x":1.27,"y":0.075},{"s":"tot","d":"u","x":1.36,"y":0.05},{"s":"tot","d":"u","x":1.42,"y":0.06},{"s":"tot","d":"u","x":1.5,"y":0.02},{"s":"tot","d":"u","x":1.59,"y":0.02},{"s":"tot","d":"u","x":1.65,"y":0.3},{"s":"tot","d":"u","x":1.696,"y":0.79},{"s":"tot","d":"u","x":1.74,"y":0.3},{"s":"tot","d":"u","x":1.8,"y":0.02},{"s":"tot","d":"u","x":1.95,"y":0.02},{"s":"tot","d":"u","x":2.0,"y":0.5},{"s":"tot","d":"u","x":2.05,"y":1.3},{"s":"tot","d":"u","x":2.1,"y":0.5},{"s":"tot","d":"u","x":2.17,"y":0.08},{"s":"tot","d":"u","x":2.23,"y":0.15},{"s":"tot","d":"u","x":2.32,"y":0.43},{"s":"tot","d":"u","x":2.38,"y":0.15},{"s":"tot","d":"u","x":2.46,"y":0.05},{"s":"tot","d":"u","x":2.63,"y":0.03},{"s":"tot","d":"u","x":2.7,"y":0.5},{"s":"tot","d":"u","x":2.76,"y":1.3},{"s":"tot","d":"u","x":2.82,"y":0.5},{"s":"tot","d":"u","x":2.92,"y":0.15},{"s":"tot","d":"u","x":3.0,"y":0.125},
{"s":"tot","d":"d","x":-3.0,"y":-0.075},{"s":"tot","d":"d","x":-2.89,"y":-0.05},{"s":"tot","d":"d","x":-2.8,"y":-0.25},{"s":"tot","d":"d","x":-2.733,"y":-0.675},{"s":"tot","d":"d","x":-2.67,"y":-0.25},{"s":"tot","d":"d","x":-2.61,"y":-0.04},{"s":"tot","d":"d","x":-2.52,"y":-0.025},{"s":"tot","d":"d","x":-2.42,"y":-0.25},{"s":"tot","d":"d","x":-2.34,"y":-0.64},{"s":"tot","d":"d","x":-2.27,"y":-0.25},{"s":"tot","d":"d","x":-2.21,"y":-0.025},{"s":"tot","d":"d","x":-2.15,"y":-0.075},{"s":"tot","d":"d","x":-2.07,"y":-0.3},{"s":"tot","d":"d","x":-2.02,"y":-0.1},{"s":"tot","d":"d","x":-1.94,"y":-0.075},{"s":"tot","d":"d","x":-1.845,"y":-0.16},{"s":"tot","d":"d","x":-1.76,"y":-0.025},{"s":"tot","d":"d","x":-1.65,"y":-0.05},{"s":"tot","d":"d","x":-1.52,"y":-0.025},{"s":"tot","d":"d","x":-1.4,"y":-0.05},{"s":"tot","d":"d","x":-1.28,"y":-0.025},{"s":"tot","d":"d","x":-1.1,"y":-0.05},{"s":"tot","d":"d","x":-1.025,"y":-0.125},{"s":"tot","d":"d","x":-0.96,"y":-0.15},{"s":"tot","d":"d","x":-0.84,"y":-0.2},{"s":"tot","d":"d","x":-0.79,"y":-0.14},{"s":"tot","d":"d","x":-0.74,"y":-0.175},{"s":"tot","d":"d","x":-0.7,"y":-0.05},{"s":"tot","d":"d","x":-0.65,"y":-0.35},{"s":"tot","d":"d","x":-0.61,"y":-1.2},{"s":"tot","d":"d","x":-0.57,"y":-0.35},{"s":"tot","d":"d","x":-0.53,"y":0},{"s":"tot","d":"d","x":0.0,"y":0},{"s":"tot","d":"d","x":0.08,"y":-0.05},{"s":"tot","d":"d","x":0.186,"y":-0.325},{"s":"tot","d":"d","x":0.31,"y":-0.125},{"s":"tot","d":"d","x":0.37,"y":-0.2},{"s":"tot","d":"d","x":0.416,"y":-0.575},{"s":"tot","d":"d","x":0.46,"y":-0.2},{"s":"tot","d":"d","x":0.5,"y":-0.075},{"s":"tot","d":"d","x":0.62,"y":-0.2},{"s":"tot","d":"d","x":0.683,"y":-0.475},{"s":"tot","d":"d","x":0.74,"y":-0.15},{"s":"tot","d":"d","x":0.79,"y":0},{"s":"tot","d":"d","x":1.27,"y":0},{"s":"tot","d":"d","x":1.43,"y":-0.125},{"s":"tot","d":"d","x":1.53,"y":0},{"s":"tot","d":"d","x":1.62,"y":-0.05},{"s":"tot","d":"d","x":1.67,"y":-0.3},{"s":"tot","d":"d","x":1.72,"y":-0.775},{"s":"tot","d":"d","x":1.77,"y":-0.3},{"s":"tot","d":"d","x":1.84,"y":0},{"s":"tot","d":"d","x":2.05,"y":-0.01},{"s":"tot","d":"d","x":2.15,"y":-0.1},{"s":"tot","d":"d","x":2.2,"y":-0.4},{"s":"tot","d":"d","x":2.254,"y":-1.05},{"s":"tot","d":"d","x":2.3,"y":-0.4},{"s":"tot","d":"d","x":2.37,"y":-0.08},{"s":"tot","d":"d","x":2.47,"y":-0.1},{"s":"tot","d":"d","x":2.52,"y":-0.3},{"s":"tot","d":"d","x":2.565,"y":-0.64},{"s":"tot","d":"d","x":2.61,"y":-0.25},{"s":"tot","d":"d","x":2.68,"y":-0.1},{"s":"tot","d":"d","x":2.76,"y":-0.35},{"s":"tot","d":"d","x":2.81,"y":-0.95},{"s":"tot","d":"d","x":2.86,"y":-0.35},{"s":"tot","d":"d","x":2.95,"y":-0.025},{"s":"tot","d":"d","x":3.0,"y":0},
{"s":"px","d":"u","x":-3,"y":0},{"s":"px","d":"u","x":-2.42,"y":0},{"s":"px","d":"u","x":-2.36,"y":0.05},{"s":"px","d":"u","x":-2.3,"y":0},{"s":"px","d":"u","x":-2.03,"y":0},{"s":"px","d":"u","x":-1.96,"y":0.1},{"s":"px","d":"u","x":-1.9,"y":0.04},{"s":"px","d":"u","x":-1.84,"y":0.12},{"s":"px","d":"u","x":-1.78,"y":0},{"s":"px","d":"u","x":1.98,"y":0},{"s":"px","d":"u","x":2.05,"y":0.1},{"s":"px","d":"u","x":2.12,"y":0},{"s":"px","d":"u","x":3,"y":0},
{"s":"py","d":"u","x":-3,"y":0},{"s":"py","d":"u","x":-2.03,"y":0},{"s":"py","d":"u","x":-1.96,"y":0.2},{"s":"py","d":"u","x":-1.9,"y":0.12},{"s":"py","d":"u","x":-1.84,"y":0.33},{"s":"py","d":"u","x":-1.78,"y":0},{"s":"py","d":"u","x":1.97,"y":0},{"s":"py","d":"u","x":2.01,"y":0.14},{"s":"py","d":"u","x":2.05,"y":0.43},{"s":"py","d":"u","x":2.09,"y":0.14},{"s":"py","d":"u","x":2.12,"y":0},{"s":"py","d":"u","x":3,"y":0},
{"s":"pz","d":"u","x":-3,"y":0},{"s":"pz","d":"u","x":-2.42,"y":0},{"s":"pz","d":"u","x":-2.36,"y":0.03},{"s":"pz","d":"u","x":-2.3,"y":0},{"s":"pz","d":"u","x":-2.03,"y":0},{"s":"pz","d":"u","x":-1.96,"y":0.25},{"s":"pz","d":"u","x":-1.9,"y":0.15},{"s":"pz","d":"u","x":-1.84,"y":0.24},{"s":"pz","d":"u","x":-1.78,"y":0},{"s":"pz","d":"u","x":1.97,"y":0},{"s":"pz","d":"u","x":2.01,"y":0.23},{"s":"pz","d":"u","x":2.05,"y":0.69},{"s":"pz","d":"u","x":2.09,"y":0.23},{"s":"pz","d":"u","x":2.12,"y":0},{"s":"pz","d":"u","x":3,"y":0},
{"s":"px","d":"d","x":-3,"y":0},{"s":"px","d":"d","x":0.08,"y":0},{"s":"px","d":"d","x":0.19,"y":-0.14},{"s":"px","d":"d","x":0.3,"y":-0.05},{"s":"px","d":"d","x":0.45,"y":-0.05},{"s":"px","d":"d","x":0.55,"y":0},{"s":"px","d":"d","x":2.17,"y":0},{"s":"px","d":"d","x":2.25,"y":-0.1},{"s":"px","d":"d","x":2.33,"y":0},{"s":"px","d":"d","x":3,"y":0},
{"s":"py","d":"d","x":-3,"y":0},{"s":"py","d":"d","x":0.08,"y":0},{"s":"py","d":"d","x":0.19,"y":-0.07},{"s":"py","d":"d","x":0.3,"y":-0.03},{"s":"py","d":"d","x":0.45,"y":-0.05},{"s":"py","d":"d","x":0.55,"y":-0.03},{"s":"py","d":"d","x":0.683,"y":-0.16},{"s":"py","d":"d","x":0.75,"y":0},{"s":"py","d":"d","x":2.17,"y":0},{"s":"py","d":"d","x":2.25,"y":-0.3},{"s":"py","d":"d","x":2.33,"y":0},{"s":"py","d":"d","x":3,"y":0},
{"s":"pz","d":"d","x":-3,"y":0},{"s":"pz","d":"d","x":0.08,"y":0},{"s":"pz","d":"d","x":0.19,"y":-0.09},{"s":"pz","d":"d","x":0.3,"y":-0.04},{"s":"pz","d":"d","x":0.45,"y":-0.04},{"s":"pz","d":"d","x":0.55,"y":-0.05},{"s":"pz","d":"d","x":0.683,"y":-0.3},{"s":"pz","d":"d","x":0.75,"y":0},{"s":"pz","d":"d","x":2.17,"y":0},{"s":"pz","d":"d","x":2.21,"y":-0.16},{"s":"pz","d":"d","x":2.25,"y":-0.475},{"s":"pz","d":"d","x":2.29,"y":-0.16},{"s":"pz","d":"d","x":2.33,"y":0},{"s":"pz","d":"d","x":3,"y":0}
]
},
"concat":[
{"width":320,"height":265,"data":{"name":"a"},"layer":[
 {"transform":[{"filter":"datum.s!='tot'"}],"mark":{"type":"line","clip":true,"interpolate":"monotone","strokeWidth":1.3},
  "encoding":{"x":{"field":"x","type":"quantitative","scale":{"domain":[-3,3],"nice":false,"zero":false},"axis":{"values":[-3,0,3],"title":null}},"y":{"field":"y","type":"quantitative","scale":{"domain":[-1,1],"nice":false},"axis":{"title":"PDOS"}},"color":{"field":"s","type":"nominal","scale":{"domain":["tot","px","py","pz"],"range":["#e8141c","#6b9bd2","#b493e6","#c9a227"]},"legend":{"orient":"none","legendX":9,"legendY":-38,"direction":"horizontal","title":null,"symbolType":"stroke","symbolSize":1100,"symbolStrokeWidth":3,"labelFont":"Liberation Serif","labelFontWeight":"bold","labelFontSize":16,"labelColor":"black","columnPadding":24,"labelOffset":5,"labelExpr":"'TTF-' + datum.label"}},"detail":{"field":"d"}}},
 {"transform":[{"filter":"datum.s=='tot'"}],"mark":{"type":"line","clip":true,"interpolate":"monotone","strokeWidth":2},
  "encoding":{"x":{"field":"x","type":"quantitative"},"y":{"field":"y","type":"quantitative"},"color":{"field":"s","type":"nominal","scale":{"domain":["tot","px","py","pz"],"range":["#e8141c","#6b9bd2","#b493e6","#c9a227"]}},"detail":{"field":"d"}}},
 {"data":{"values":[{}]},"mark":{"type":"rule","strokeDash":[6,4],"color":"black","strokeWidth":1.5},"encoding":{"x":{"datum":0,"type":"quantitative"}}},
 {"data":{"values":[{}]},"mark":{"type":"text","text":"(a)","font":"Lato","fontWeight":"bold","fontSize":20,"color":"black"},"encoding":{"x":{"datum":-3.48,"type":"quantitative"},"y":{"datum":0.91,"type":"quantitative"}}},
 {"data":{"values":[{}]},"mark":{"type":"text","text":"M1","font":"Lato","fontWeight":"bold","fontSize":22,"color":"black"},"encoding":{"x":{"datum":-2.5,"type":"quantitative"},"y":{"datum":0.83,"type":"quantitative"}}},
 {"data":{"values":[{}]},"mark":{"type":"text","text":"up-spin","font":"Lato","fontWeight":"bold","fontSize":22,"color":"black"},"encoding":{"x":{"datum":-0.84,"type":"quantitative"},"y":{"datum":0.82,"type":"quantitative"}}},
 {"data":{"values":[{}]},"mark":{"type":"text","text":"down-spin","font":"Lato","fontWeight":"bold","fontSize":22,"color":"black"},"encoding":{"x":{"datum":-1.12,"type":"quantitative"},"y":{"datum":-0.88,"type":"quantitative"}}}
]},
{"width":320,"height":265,"data":{"name":"b"},"layer":[
 {"transform":[{"filter":"datum.s!='tot'"}],"mark":{"type":"line","clip":true,"interpolate":"monotone","strokeWidth":1.3},
  "encoding":{"x":{"field":"x","type":"quantitative","scale":{"domain":[-2,2],"nice":false,"zero":false},"axis":{"values":[-2,0,2],"title":null}},"y":{"field":"y","type":"quantitative","scale":{"domain":[-1,1],"nice":false},"axis":{"title":"PDOS"}},"color":{"field":"s","type":"nominal","scale":{"domain":["tot","px","py","pz"],"range":["#e8141c","#6b9bd2","#b493e6","#c9a227"]}},"detail":{"field":"d"}}},
 {"transform":[{"filter":"datum.s=='tot'"}],"mark":{"type":"line","clip":true,"interpolate":"monotone","strokeWidth":2},
  "encoding":{"x":{"field":"x","type":"quantitative"},"y":{"field":"y","type":"quantitative"},"color":{"field":"s","type":"nominal","scale":{"domain":["tot","px","py","pz"],"range":["#e8141c","#6b9bd2","#b493e6","#c9a227"]}},"detail":{"field":"d"}}},
 {"data":{"values":[{}]},"mark":{"type":"rule","strokeDash":[6,4],"color":"black","strokeWidth":1.5},"encoding":{"x":{"datum":0,"type":"quantitative"}}},
 {"data":{"values":[{}]},"mark":{"type":"text","text":"(b)","font":"Lato","fontWeight":"bold","fontSize":20,"color":"black"},"encoding":{"x":{"datum":-2.4,"type":"quantitative"},"y":{"datum":0.83,"type":"quantitative"}}},
 {"data":{"values":[{}]},"mark":{"type":"text","text":"M2","font":"Lato","fontWeight":"bold","fontSize":22,"color":"black"},"encoding":{"x":{"datum":-1.675,"type":"quantitative"},"y":{"datum":0.83,"type":"quantitative"}}},
 {"data":{"values":[{}]},"mark":{"type":"text","text":"up-spin","font":"Lato","fontWeight":"bold","fontSize":22,"color":"black"},"encoding":{"x":{"datum":-0.54,"type":"quantitative"},"y":{"datum":0.83,"type":"quantitative"}}},
 {"data":{"values":[{}]},"mark":{"type":"text","text":"down-spin","font":"Lato","fontWeight":"bold","fontSize":22,"color":"black"},"encoding":{"x":{"datum":-0.76,"type":"quantitative"},"y":{"datum":-0.89,"type":"quantitative"}}}
]},
{"width":320,"height":265,"data":{"name":"c"},"layer":[
 {"transform":[{"filter":"datum.s=='tot'"}],"mark":{"type":"line","clip":true,"interpolate":"monotone","strokeWidth":2},
  "encoding":{"x":{"field":"x","type":"quantitative","scale":{"domain":[-4,4],"nice":false,"zero":false},"axis":{"values":[-4,0,4],"title":"Energy(eV)"}},"y":{"field":"y","type":"quantitative","scale":{"domain":[-1,1],"nice":false},"axis":{"title":"PDOS"}},"color":{"field":"s","type":"nominal","scale":{"domain":["tot","px","py","pz"],"range":["#e8141c","#6b9bd2","#b493e6","#c9a227"]}},"detail":{"field":"d"}}},
 {"transform":[{"filter":"datum.s=='px'"}],"mark":{"type":"line","clip":true,"interpolate":"monotone","strokeWidth":1.3},
  "encoding":{"x":{"field":"x","type":"quantitative"},"y":{"field":"y","type":"quantitative"},"color":{"field":"s","type":"nominal","scale":{"domain":["tot","px","py","pz"],"range":["#e8141c","#6b9bd2","#b493e6","#c9a227"]}},"detail":{"field":"d"}}},
 {"transform":[{"filter":"datum.s=='py'"}],"mark":{"type":"line","clip":true,"interpolate":"monotone","strokeWidth":1.3},
  "encoding":{"x":{"field":"x","type":"quantitative"},"y":{"field":"y","type":"quantitative"},"color":{"field":"s","type":"nominal","scale":{"domain":["tot","px","py","pz"],"range":["#e8141c","#6b9bd2","#b493e6","#c9a227"]}},"detail":{"field":"d"}}},
 {"transform":[{"filter":"datum.s=='pz'"}],"mark":{"type":"line","clip":true,"interpolate":"monotone","strokeWidth":1.3},
  "encoding":{"x":{"field":"x","type":"quantitative"},"y":{"field":"y","type":"quantitative"},"color":{"field":"s","type":"nominal","scale":{"domain":["tot","px","py","pz"],"range":["#e8141c","#6b9bd2","#b493e6","#c9a227"]}},"detail":{"field":"d"}}},
 {"data":{"values":[{}]},"mark":{"type":"rule","strokeDash":[6,4],"color":"black","strokeWidth":1.5},"encoding":{"x":{"datum":0,"type":"quantitative"}}},
 {"data":{"values":[{}]},"mark":{"type":"text","text":"(c)","font":"Lato","fontWeight":"bold","fontSize":20,"color":"black"},"encoding":{"x":{"datum":-4.37,"type":"quantitative"},"y":{"datum":0.89,"type":"quantitative"}}},
 {"data":{"values":[{}]},"mark":{"type":"text","text":"M3","font":"Lato","fontWeight":"bold","fontSize":22,"color":"black"},"encoding":{"x":{"datum":-3.28,"type":"quantitative"},"y":{"datum":0.84,"type":"quantitative"}}},
 {"data":{"values":[{}]},"mark":{"type":"text","text":"up-spin","font":"Lato","fontWeight":"bold","fontSize":22,"color":"black"},"encoding":{"x":{"datum":-1.11,"type":"quantitative"},"y":{"datum":0.84,"type":"quantitative"}}},
 {"data":{"values":[{}]},"mark":{"type":"text","text":"down-spin","font":"Lato","fontWeight":"bold","fontSize":22,"color":"black"},"encoding":{"x":{"datum":-1.56,"type":"quantitative"},"y":{"datum":-0.86,"type":"quantitative"}}}
]},
{"width":320,"height":265,"data":{"name":"d"},"layer":[
 {"transform":[{"filter":"datum.s=='tot'"}],"mark":{"type":"line","clip":true,"interpolate":"monotone","strokeWidth":2},
  "encoding":{"x":{"field":"x","type":"quantitative","scale":{"domain":[-3,3],"nice":false,"zero":false},"axis":{"values":[-3,0,3],"title":"Energy(eV)"}},"y":{"field":"y","type":"quantitative","scale":{"domain":[-1,1],"nice":false},"axis":{"title":"PDOS"}},"color":{"field":"s","type":"nominal","scale":{"domain":["tot","px","py","pz"],"range":["#e8141c","#6b9bd2","#b493e6","#c9a227"]}},"detail":{"field":"d"}}},
 {"transform":[{"filter":"datum.s=='px'"}],"mark":{"type":"line","clip":true,"interpolate":"monotone","strokeWidth":1.3},
  "encoding":{"x":{"field":"x","type":"quantitative"},"y":{"field":"y","type":"quantitative"},"color":{"field":"s","type":"nominal","scale":{"domain":["tot","px","py","pz"],"range":["#e8141c","#6b9bd2","#b493e6","#c9a227"]}},"detail":{"field":"d"}}},
 {"transform":[{"filter":"datum.s=='py'"}],"mark":{"type":"line","clip":true,"interpolate":"monotone","strokeWidth":1.3},
  "encoding":{"x":{"field":"x","type":"quantitative"},"y":{"field":"y","type":"quantitative"},"color":{"field":"s","type":"nominal","scale":{"domain":["tot","px","py","pz"],"range":["#e8141c","#6b9bd2","#b493e6","#c9a227"]}},"detail":{"field":"d"}}},
 {"transform":[{"filter":"datum.s=='pz'"}],"mark":{"type":"line","clip":true,"interpolate":"monotone","strokeWidth":1.3},
  "encoding":{"x":{"field":"x","type":"quantitative"},"y":{"field":"y","type":"quantitative"},"color":{"field":"s","type":"nominal","scale":{"domain":["tot","px","py","pz"],"range":["#e8141c","#6b9bd2","#b493e6","#c9a227"]}},"detail":{"field":"d"}}},
 {"data":{"values":[{}]},"mark":{"type":"rule","strokeDash":[6,4],"color":"black","strokeWidth":1.5},"encoding":{"x":{"datum":0,"type":"quantitative"}}},
 {"data":{"values":[{}]},"mark":{"type":"text","text":"(d)","font":"Lato","fontWeight":"bold","fontSize":20,"color":"black"},"encoding":{"x":{"datum":-3.6,"type":"quantitative"},"y":{"datum":0.9,"type":"quantitative"}}},
 {"data":{"values":[{}]},"mark":{"type":"text","text":"M4","font":"Lato","fontWeight":"bold","fontSize":22,"color":"black"},"encoding":{"x":{"datum":-2.52,"type":"quantitative"},"y":{"datum":0.82,"type":"quantitative"}}},
 {"data":{"values":[{}]},"mark":{"type":"text","text":"up-spin","font":"Lato","fontWeight":"bold","fontSize":22,"color":"black"},"encoding":{"x":{"datum":-0.83,"type":"quantitative"},"y":{"datum":0.83,"type":"quantitative"}}},
 {"data":{"values":[{}]},"mark":{"type":"text","text":"down-spin","font":"Lato","fontWeight":"bold","fontSize":22,"color":"black"},"encoding":{"x":{"datum":-1.18,"type":"quantitative"},"y":{"datum":-0.86,"type":"quantitative"}}}
]}
]
}
